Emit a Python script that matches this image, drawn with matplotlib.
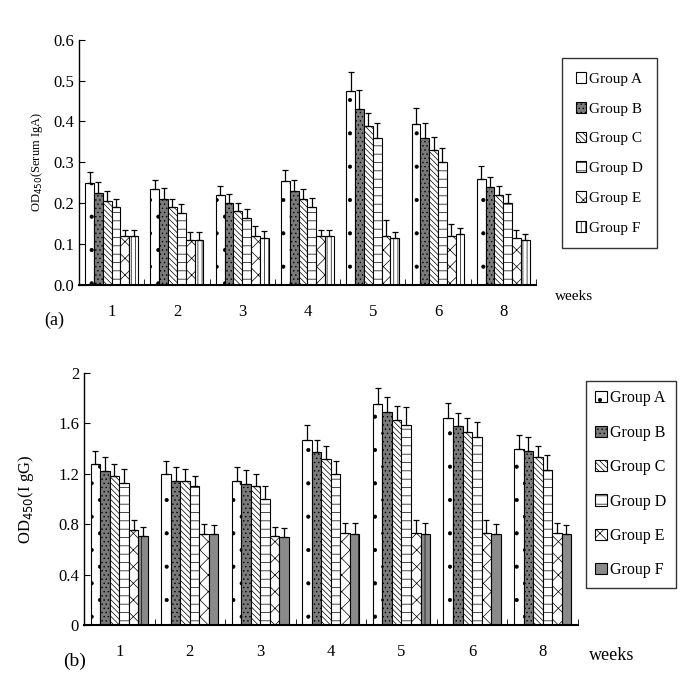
import matplotlib
matplotlib.use("Agg")
import matplotlib.pyplot as plt
import numpy as np

plt.rcParams["font.family"] = ["Liberation Serif", "DejaVu Serif"]
plt.rcParams["hatch.linewidth"] = 0.5

weeks = ["1", "2", "3", "4", "5", "6", "8"]
groups = ["Group A", "Group B", "Group C", "Group D", "Group E", "Group F"]

# (a) serum IgA, OD450
iga_mean = {
    "Group A": [0.250, 0.235, 0.220, 0.255, 0.475, 0.395, 0.260],
    "Group B": [0.225, 0.210, 0.200, 0.230, 0.430, 0.360, 0.240],
    "Group C": [0.205, 0.190, 0.180, 0.210, 0.390, 0.330, 0.220],
    "Group D": [0.190, 0.175, 0.165, 0.190, 0.360, 0.300, 0.200],
    "Group E": [0.120, 0.110, 0.120, 0.120, 0.120, 0.120, 0.115],
    "Group F": [0.120, 0.110, 0.115, 0.120, 0.115, 0.125, 0.110],
}
iga_err = {
    "Group A": [0.027, 0.022, 0.022, 0.026, 0.045, 0.037, 0.030],
    "Group B": [0.027, 0.028, 0.023, 0.027, 0.048, 0.037, 0.025],
    "Group C": [0.025, 0.020, 0.020, 0.025, 0.030, 0.033, 0.023],
    "Group D": [0.020, 0.022, 0.020, 0.022, 0.037, 0.035, 0.023],
    "Group E": [0.015, 0.020, 0.025, 0.015, 0.040, 0.028, 0.020],
    "Group F": [0.015, 0.020, 0.018, 0.015, 0.015, 0.015, 0.015],
}

# (b) IgG, OD450
igg_mean = {
    "Group A": [1.28, 1.20, 1.14, 1.47, 1.75, 1.64, 1.40],
    "Group B": [1.22, 1.14, 1.12, 1.37, 1.69, 1.58, 1.38],
    "Group C": [1.18, 1.14, 1.10, 1.32, 1.63, 1.53, 1.33],
    "Group D": [1.13, 1.10, 1.00, 1.20, 1.59, 1.49, 1.23],
    "Group E": [0.75, 0.72, 0.71, 0.73, 0.73, 0.73, 0.73],
    "Group F": [0.71, 0.72, 0.70, 0.72, 0.72, 0.72, 0.72],
}
igg_err = {
    "Group A": [0.10, 0.10, 0.11, 0.12, 0.13, 0.12, 0.11],
    "Group B": [0.11, 0.11, 0.11, 0.10, 0.12, 0.10, 0.11],
    "Group C": [0.10, 0.10, 0.10, 0.10, 0.11, 0.11, 0.09],
    "Group D": [0.11, 0.08, 0.10, 0.10, 0.14, 0.12, 0.12],
    "Group E": [0.08, 0.08, 0.07, 0.08, 0.10, 0.10, 0.08],
    "Group F": [0.07, 0.07, 0.07, 0.09, 0.09, 0.08, 0.07],
}

# fill / hatch per group, panel (a) then panel (b)
styles_a = [("white", "."), ("#7a7a7a", "...."), ("white", "\\\\\\\\\\\\"),
            ("white", "--"), ("white", "xx"), ("white", "||||")]
styles_b = [("white", "."), ("#7a7a7a", "...."), ("white", "\\\\\\\\\\\\"),
            ("white", "--"), ("white", "xx"), ("#8a8a8a", "|")]


def draw(ax, means, errs, styles, ylim, yticks, yfmt):
    x = np.arange(len(weeks))
    w = 0.135
    for i, g in enumerate(groups):
        fc, hatch = styles[i]
        pos = x + (i - 2.5) * w
        m = np.array(means[g])
        e = np.array(errs[g])
        ax.bar(pos, m, width=w, color=fc, edgecolor="black", hatch=hatch,
               linewidth=0.8, label=g, zorder=2)
        ax.errorbar(pos, m, yerr=[np.zeros_like(e), e], fmt="none",
                    ecolor="black", elinewidth=0.9, capsize=2.5, capthick=0.9, zorder=3)
    ax.set_xlim(-0.5, len(weeks) - 0.5)
    ax.set_ylim(*ylim)
    ax.set_yticks(yticks)
    ax.set_yticklabels([yfmt.format(v) for v in yticks], fontsize=12)
    ax.set_xticks(x)
    ax.set_xticklabels(weeks, fontsize=12)
    ax.set_xticks(np.arange(len(weeks) + 1) - 0.5, minor=True)
    ax.tick_params(axis="x", which="major", length=0, pad=14)
    ax.tick_params(axis="x", which="minor", direction="in", length=4)
    ax.tick_params(axis="y", direction="in", length=4)
    for s in ("top", "right"):
        ax.spines[s].set_visible(False)
    ax.spines["left"].set_linewidth(1.0)
    ax.spines["bottom"].set_linewidth(1.5)


fig = plt.figure(figsize=(6.85, 6.85), dpi=100)

ax1 = fig.add_axes([0.1153, 0.584, 0.667, 0.358])
draw(ax1, iga_mean, iga_err, styles_a, (0, 0.6), np.arange(0, 0.61, 0.1), "{:.1f}")
ax1.set_ylabel(r"OD$_{450}$(Serum IgA)", fontsize=9, labelpad=6)
leg1 = ax1.legend(loc="upper left", bbox_to_anchor=(1.04, 0.955), fontsize=11,
                  frameon=True, fancybox=False, edgecolor="black",
                  handlelength=0.7, handleheight=0.7, handletextpad=0.2,
                  labelspacing=1.05, borderpad=0.9)
leg1.get_frame().set_linewidth(1.0)
fig.text(0.81, 0.567, "weeks", fontsize=11, ha="left", va="center")
fig.text(0.065, 0.533, "(a)", fontsize=13, ha="left", va="center")

ax2 = fig.add_axes([0.1226, 0.0876, 0.721, 0.368])
draw(ax2, igg_mean, igg_err, styles_b, (0, 2.0), [0, 0.4, 0.8, 1.2, 1.6, 2.0], "{:g}")
ax2.set_ylabel(r"OD$_{450}$(I gG)", fontsize=12, labelpad=16)
leg2 = ax2.legend(loc="upper left", bbox_to_anchor=(1.0, 1.0), fontsize=11.5,
                  frameon=True, fancybox=False, edgecolor="black",
                  handlelength=0.7, handleheight=0.7, handletextpad=0.2,
                  labelspacing=1.15, borderpad=0.6)
leg2.get_frame().set_linewidth(1.0)
fig.text(0.86, 0.043, "weeks", fontsize=13, ha="left", va="center")
fig.text(0.092, 0.035, "(b)", fontsize=14, ha="left", va="center")

fig.savefig("out.png", dpi=100)
